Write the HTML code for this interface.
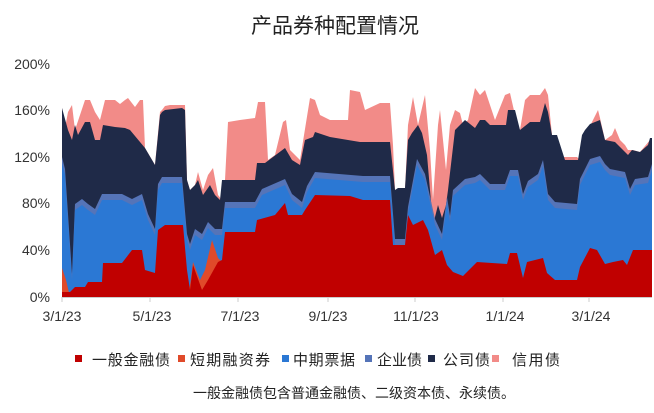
<!DOCTYPE html>
<html><head><meta charset="utf-8"><style>
body{margin:0;background:#fff;}
svg{display:block;font-family:"Liberation Sans","Noto Sans CJK SC",sans-serif;}
</style></head><body>
<svg width="654" height="413" viewBox="0 0 654 413" xmlns="http://www.w3.org/2000/svg">
<text x="335" y="33" font-size="21" text-anchor="middle" fill="#222">产品券种配置情况</text>
<g font-size="14" fill="#333" text-anchor="end">
<text x="50" y="69">200%</text><text x="50" y="115">160%</text><text x="50" y="162">120%</text>
<text x="50" y="208">80%</text><text x="50" y="255">40%</text><text x="50" y="302">0%</text>
</g>
<polygon fill="#f28b88" points="62,297 62,108 65,128 68,112 72,105 75,130 80,115 85,100 90,100 95,112 100,120 105,100 115,100 120,104 125,100 128,98 135,107 140,100 143,100 145,148 155,165 160,112 162,110 165,106 170,105 185,105 187,180 190,190 195,185 198,172 203,190 208,175 213,168 218,195 222,200 225,180 228,122 240,120 255,118 258,102 265,102 268,160 275,155 283,122 286,120 290,150 300,160 310,98 315,100 320,115 330,120 348,120 350,90 360,92 365,110 380,103 390,103 393,145 395,190 405,190 408,125 413,97 418,125 425,95 430,150 433,200 438,125 440,110 446,170 450,125 455,110 460,113 463,125 468,120 475,88 480,95 485,90 490,105 495,120 505,95 510,93 515,115 520,130 525,100 530,95 540,95 545,88 548,95 552,135 557,135 560,157 577,157 580,160 590,126 598,110 600,118 605,140 612,135 615,128 620,140 625,145 628,150 633,150 640,152 650,140 652,140 652,297"/>
<polygon fill="#1f2a48" points="62,297 62,108 68,130 72,140 75,125 78,135 85,122 90,122 95,140 100,140 103,125 115,127 125,128 130,130 145,148 155,165 160,115 162,112 165,110 182,108 185,110 187,180 190,190 195,185 198,180 203,195 210,185 215,195 220,200 222,180 225,180 255,180 257,163 265,163 285,148 292,160 300,165 305,140 313,137 315,132 330,137 360,142 390,142 395,190 398,188 405,188 408,140 412,133 418,125 422,133 427,155 433,225 438,205 442,218 446,205 448,190 455,130 465,120 475,128 480,120 485,120 490,125 506,125 508,110 515,110 520,130 530,122 540,122 545,103 548,112 552,135 557,135 565,160 578,160 582,135 585,130 590,124 600,120 605,140 615,142 628,155 632,150 640,152 648,145 650,138 652,138 652,297"/>
<polygon fill="#5574b8" transform="translate(0,-6)" points="62,297 62,163 65,175 68,220 72,280 75,210 82,205 88,210 95,215 102,200 122,200 132,205 142,200 148,220 155,235 158,190 162,183 182,183 187,240 190,250 195,235 202,240 208,228 215,235 222,235 225,208 255,208 262,195 285,185 292,200 302,208 307,192 315,178 363,182 390,182 395,245 405,245 408,213 417,165 425,180 435,225 442,240 447,203 450,222 453,196 465,185 475,183 480,180 490,190 505,190 510,176 518,176 523,200 528,187 538,180 543,166 548,200 555,208 577,210 580,185 590,165 600,162 605,170 610,175 625,178 630,195 635,185 648,183 652,170 652,297"/>
<polygon fill="#2b78d4" points="62,297 62,163 65,175 68,220 72,280 75,210 82,205 88,210 95,215 102,200 122,200 132,205 142,200 148,220 155,235 158,190 162,183 182,183 187,240 190,250 195,235 202,240 208,228 215,235 222,235 225,208 255,208 262,195 285,185 292,200 302,208 307,192 315,178 363,182 390,182 395,245 405,245 408,213 417,165 425,180 435,225 442,240 447,203 450,222 453,196 465,185 475,183 480,180 490,190 505,190 510,176 518,176 523,200 528,187 538,180 543,166 548,200 555,208 577,210 580,185 590,165 600,162 605,170 610,175 625,178 630,195 635,185 648,183 652,170 652,297"/>
<polygon fill="#e04a2a" points="62,297 62,268 66,280 70,297"/>
<polygon fill="#e04a2a" points="188,297 190,285 193,262 200,280 205,270 212,240 218,258 222,262 222,297"/>
<polygon fill="#c00000" points="62,297 62,292 70,292 75,287 85,287 88,282 102,282 103,263 122,263 132,250 142,250 145,270 155,273 158,230 165,225 183,225 187,270 190,290 193,265 202,290 208,280 218,262 222,260 225,232 255,232 257,220 275,215 285,203 288,215 302,215 305,210 315,195 350,196 363,200 390,200 393,245 405,245 408,215 413,225 423,220 428,230 435,255 442,250 447,265 453,272 463,276 477,262 507,264 510,253 517,253 523,278 527,262 543,258 547,273 555,280 577,280 580,267 590,248 597,250 605,264 613,262 623,260 627,265 633,250 652,250 652,297"/>
<line x1="62" y1="297.5" x2="652" y2="297.5" stroke="#ccc" stroke-width="1"/>
<g stroke="#ccc"><line x1="62" y1="297" x2="62" y2="302"/><line x1="150" y1="297" x2="150" y2="302"/><line x1="238" y1="297" x2="238" y2="302"/><line x1="328" y1="297" x2="328" y2="302"/><line x1="415" y1="297" x2="415" y2="302"/><line x1="503" y1="297" x2="503" y2="302"/><line x1="589" y1="297" x2="589" y2="302"/></g>
<g font-size="14" fill="#333" text-anchor="middle">
<text x="62" y="321">3/1/23</text><text x="152" y="321">5/1/23</text><text x="240" y="321">7/1/23</text>
<text x="328" y="321">9/1/23</text><text x="416" y="321">11/1/23</text><text x="505" y="321">1/1/24</text><text x="591" y="321">3/1/24</text>
</g>
<g font-size="15" fill="#222">
<rect x="75" y="355" width="7" height="7" fill="#c00000"/><text x="92" y="365" textLength="78">一般金融债</text>
<rect x="178" y="355" width="7" height="7" fill="#e04a2a"/><text x="190" y="365" textLength="80">短期融资券</text>
<rect x="282" y="355" width="7" height="7" fill="#2b78d4"/><text x="293" y="365" textLength="62">中期票据</text>
<rect x="365" y="355" width="7" height="7" fill="#5574b8"/><text x="377" y="365" textLength="45">企业债</text>
<rect x="428" y="355" width="7" height="7" fill="#1f2a48"/><text x="443" y="365" textLength="47">公司债</text>
<rect x="492" y="355" width="7" height="7" fill="#f28b88"/><text x="512" y="365" textLength="48">信用债</text>
</g>
<text x="193" y="398" font-size="14" fill="#222" textLength="322">一般金融债包含普通金融债、二级资本债、永续债。</text>
</svg>
</body></html>
